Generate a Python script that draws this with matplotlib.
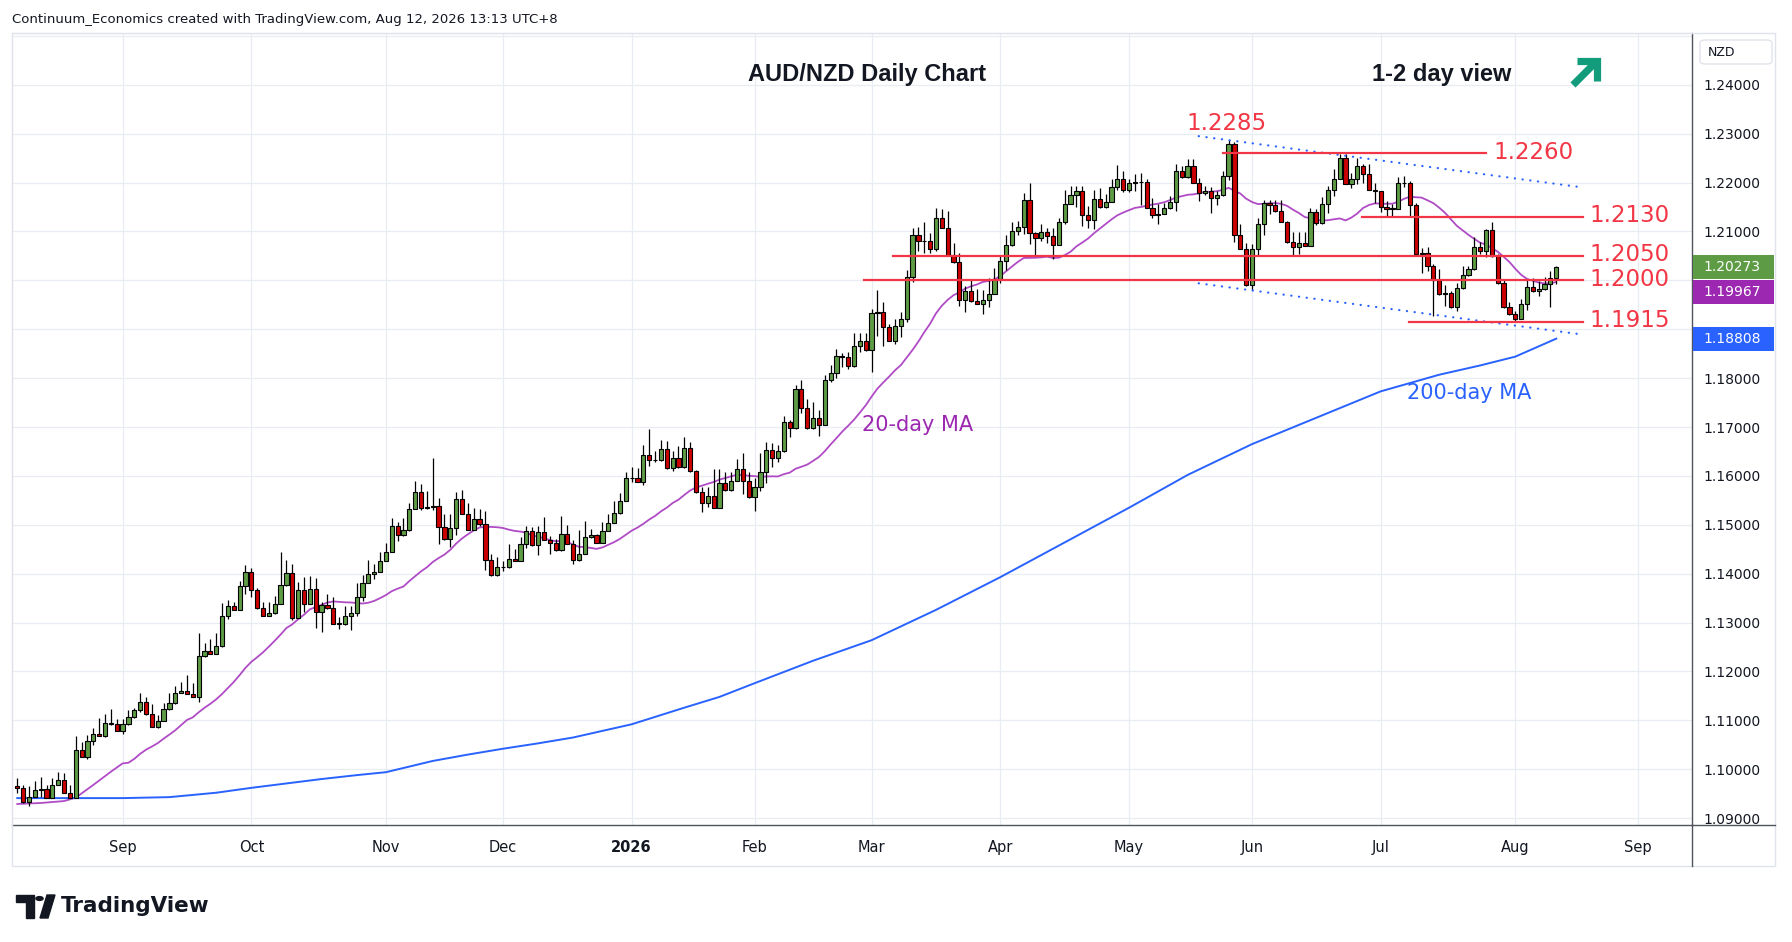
import numpy as np
import pandas as pd
import matplotlib
matplotlib.use("Agg")
import matplotlib.pyplot as plt
from matplotlib.patches import Rectangle, FancyBboxPatch, Polygon, Circle
from matplotlib.lines import Line2D

W, H = 1792, 942

# Daily AUD/NZD candles, Aug 6 2025 - Aug 12 2026 (open = previous close)
first_open = 1.0965
closes = [
    1.0961, 1.0933, 1.0944, 1.0958, 1.0959, 1.0942, 1.0967, 1.0979, 1.0952, 1.0942,
    1.1040, 1.1026, 1.1057, 1.1072, 1.1069, 1.1095, 1.1092, 1.1079, 1.1092, 1.1107,
    1.1121, 1.1138, 1.1113, 1.1087, 1.1099, 1.1123, 1.1135, 1.1157, 1.1161, 1.1154,
    1.1148, 1.1232, 1.1241, 1.1236, 1.1252, 1.1314, 1.1334, 1.1326, 1.1375, 1.1403,
    1.1366, 1.1329, 1.1314, 1.1319, 1.1339, 1.1376, 1.1402, 1.1310, 1.1367, 1.1339,
    1.1369, 1.1322, 1.1335, 1.1329, 1.1298, 1.1298, 1.1314, 1.1319, 1.1353, 1.1382,
    1.1399, 1.1404, 1.1427, 1.1445, 1.1498, 1.1479, 1.1490, 1.1533, 1.1567, 1.1535,
    1.1536, 1.1538, 1.1496, 1.1470, 1.1494, 1.1553, 1.1523, 1.1490, 1.1512, 1.1502,
    1.1429, 1.1397, 1.1414, 1.1414, 1.1431, 1.1427, 1.1461, 1.1487, 1.1458, 1.1486,
    1.1469, 1.1463, 1.1448, 1.1482, 1.1461, 1.1429, 1.1441, 1.1476, 1.1480, 1.1463,
    1.1488, 1.1504, 1.1524, 1.1549, 1.1596, 1.1596, 1.1588, 1.1643, 1.1632, 1.1632,
    1.1655, 1.1616, 1.1637, 1.1618, 1.1657, 1.1610, 1.1567, 1.1545, 1.1559, 1.1535,
    1.1586, 1.1572, 1.1590, 1.1614, 1.1590, 1.1557, 1.1578, 1.1608, 1.1653, 1.1637,
    1.1650, 1.1710, 1.1698, 1.1778, 1.1739, 1.1698, 1.1718, 1.1705, 1.1797, 1.1811,
    1.1845, 1.1843, 1.1824, 1.1865, 1.1877, 1.1857, 1.1933, 1.1936, 1.1904, 1.1877,
    1.1906, 1.1922, 1.2006, 1.2093, 1.2081, 1.2081, 1.2065, 1.2127, 1.2108, 1.2052,
    1.2037, 1.1960, 1.1978, 1.1958, 1.1952, 1.1960, 1.1973, 1.2003, 1.2040, 1.2073,
    1.2101, 1.2110, 1.2165, 1.2097, 1.2086, 1.2098, 1.2091, 1.2073, 1.2120, 1.2157,
    1.2175, 1.2182, 1.2133, 1.2124, 1.2167, 1.2151, 1.2161, 1.2192, 1.2207, 1.2185,
    1.2200, 1.2202, 1.2201, 1.2149, 1.2134, 1.2135, 1.2148, 1.2161, 1.2224, 1.2212,
    1.2233, 1.2200, 1.2178, 1.2183, 1.2169, 1.2174, 1.2214, 1.2278, 1.2093, 1.2065,
    1.1991, 1.2065, 1.2116, 1.2159, 1.2155, 1.2142, 1.2120, 1.2078, 1.2069, 1.2076,
    1.2071, 1.2139, 1.2117, 1.2157, 1.2184, 1.2208, 1.2251, 1.2198, 1.2208, 1.2233,
    1.2217, 1.2185, 1.2182, 1.2151, 1.2147, 1.2147, 1.2199, 1.2199, 1.2154, 1.2054,
    1.2055, 1.2029, 1.2001, 1.1972, 1.1974, 1.1945, 1.1984, 1.2011, 1.2023, 1.2069,
    1.2061, 1.2103, 1.2049, 1.1995, 1.1945, 1.1931, 1.1922, 1.1952, 1.1986, 1.1978,
    1.1982, 1.1993, 1.2004, 1.20273,
]
highs = [
    1.0982, 1.0968, 1.0965, 1.0977, 1.0984, 1.0967, 1.0982, 1.0995, 1.0992, 1.0968,
    1.1069, 1.1055, 1.1070, 1.1084, 1.1105, 1.1114, 1.1124, 1.1102, 1.1102, 1.1122,
    1.1126, 1.1157, 1.1148, 1.1133, 1.1110, 1.1135, 1.1156, 1.1170, 1.1179, 1.1193,
    1.1177, 1.1279, 1.1259, 1.1267, 1.1279, 1.1340, 1.1347, 1.1342, 1.1386, 1.1418,
    1.1412, 1.1370, 1.1343, 1.1343, 1.1355, 1.1445, 1.1429, 1.1419, 1.1384, 1.1394,
    1.1395, 1.1392, 1.1343, 1.1359, 1.1352, 1.1311, 1.1333, 1.1333, 1.1382, 1.1397,
    1.1429, 1.1419, 1.1444, 1.1462, 1.1513, 1.1506, 1.1513, 1.1544, 1.1589, 1.1583,
    1.1569, 1.1637, 1.1555, 1.1523, 1.1523, 1.1567, 1.1572, 1.1544, 1.1535, 1.1532,
    1.1528, 1.1440, 1.1434, 1.1426, 1.1460, 1.1450, 1.1476, 1.1498, 1.1496, 1.1497,
    1.1516, 1.1478, 1.1471, 1.1518, 1.1499, 1.1469, 1.1489, 1.1508, 1.1491, 1.1482,
    1.1506, 1.1523, 1.1548, 1.1566, 1.1608, 1.1618, 1.1616, 1.1664, 1.1695, 1.1652,
    1.1674, 1.1671, 1.1651, 1.1661, 1.1680, 1.1670, 1.1613, 1.1578, 1.1578, 1.1615,
    1.1615, 1.1609, 1.1609, 1.1635, 1.1646, 1.1609, 1.1595, 1.1647, 1.1669, 1.1668,
    1.1664, 1.1722, 1.1715, 1.1786, 1.1797, 1.1758, 1.1751, 1.1734, 1.1807, 1.1827,
    1.1859, 1.1852, 1.1853, 1.1893, 1.1893, 1.1893, 1.1941, 1.1981, 1.1955, 1.1911,
    1.1921, 1.1935, 1.2021, 1.2107, 1.2110, 1.2120, 1.2097, 1.2149, 1.2146, 1.2142,
    1.2077, 1.2057, 1.1988, 1.2000, 1.1982, 1.1981, 1.2004, 1.2026, 1.2052, 1.2093,
    1.2120, 1.2121, 1.2178, 1.2199, 1.2098, 1.2115, 1.2107, 1.2107, 1.2128, 1.2185,
    1.2193, 1.2193, 1.2193, 1.2152, 1.2185, 1.2188, 1.2176, 1.2207, 1.2235, 1.2224,
    1.2208, 1.2217, 1.2219, 1.2207, 1.2168, 1.2157, 1.2159, 1.2173, 1.2239, 1.2234,
    1.2248, 1.2248, 1.2210, 1.2193, 1.2190, 1.2183, 1.2224, 1.2287, 1.2283, 1.2115,
    1.2077, 1.2074, 1.2127, 1.2165, 1.2165, 1.2164, 1.2164, 1.2121, 1.2099, 1.2099,
    1.2099, 1.2149, 1.2147, 1.2171, 1.2193, 1.2227, 1.2258, 1.2258, 1.2220, 1.2251,
    1.2238, 1.2238, 1.2200, 1.2183, 1.2162, 1.2156, 1.2211, 1.2213, 1.2204, 1.2159,
    1.2067, 1.2068, 1.2034, 1.2024, 1.1991, 1.1979, 1.1994, 1.2030, 1.2030, 1.2088,
    1.2078, 1.2106, 1.2120, 1.2054, 1.2003, 1.1956, 1.1937, 1.1962, 1.2003, 1.2005,
    1.1999, 1.2007, 1.2019, 1.2030,
]
lows = [
    1.0951, 1.0932, 1.0924, 1.0948, 1.0944, 1.0941, 1.0941, 1.0967, 1.0951, 1.0941,
    1.0941, 1.1025, 1.1021, 1.1050, 1.1068, 1.1065, 1.1091, 1.1078, 1.1072, 1.1091,
    1.1104, 1.1118, 1.1112, 1.1086, 1.1085, 1.1098, 1.1122, 1.1133, 1.1155, 1.1153,
    1.1147, 1.1138, 1.1230, 1.1235, 1.1235, 1.1250, 1.1307, 1.1325, 1.1325, 1.1358,
    1.1352, 1.1328, 1.1313, 1.1313, 1.1318, 1.1338, 1.1375, 1.1305, 1.1309, 1.1322,
    1.1338, 1.1288, 1.1280, 1.1328, 1.1297, 1.1287, 1.1296, 1.1284, 1.1313, 1.1345,
    1.1380, 1.1389, 1.1403, 1.1426, 1.1444, 1.1467, 1.1478, 1.1488, 1.1532, 1.1530,
    1.1533, 1.1531, 1.1461, 1.1469, 1.1455, 1.1479, 1.1522, 1.1489, 1.1489, 1.1498,
    1.1407, 1.1396, 1.1396, 1.1405, 1.1412, 1.1426, 1.1426, 1.1453, 1.1457, 1.1438,
    1.1468, 1.1441, 1.1447, 1.1447, 1.1460, 1.1420, 1.1427, 1.1440, 1.1474, 1.1462,
    1.1462, 1.1487, 1.1503, 1.1523, 1.1548, 1.1588, 1.1587, 1.1582, 1.1620, 1.1628,
    1.1631, 1.1615, 1.1611, 1.1616, 1.1616, 1.1609, 1.1566, 1.1527, 1.1536, 1.1534,
    1.1534, 1.1569, 1.1569, 1.1589, 1.1564, 1.1554, 1.1528, 1.1569, 1.1586, 1.1618,
    1.1629, 1.1649, 1.1680, 1.1696, 1.1729, 1.1697, 1.1695, 1.1682, 1.1704, 1.1793,
    1.1800, 1.1822, 1.1819, 1.1823, 1.1854, 1.1856, 1.1812, 1.1887, 1.1865, 1.1876,
    1.1870, 1.1884, 1.1915, 1.1996, 1.2060, 1.2057, 1.2055, 1.2060, 1.2107, 1.2051,
    1.2036, 1.1947, 1.1935, 1.1955, 1.1951, 1.1931, 1.1946, 1.1972, 1.1995, 1.2022,
    1.2070, 1.2092, 1.2095, 1.2074, 1.2049, 1.2080, 1.2077, 1.2044, 1.2073, 1.2115,
    1.2156, 1.2150, 1.2112, 1.2107, 1.2105, 1.2149, 1.2149, 1.2160, 1.2185, 1.2181,
    1.2181, 1.2183, 1.2154, 1.2148, 1.2127, 1.2116, 1.2136, 1.2145, 1.2142, 1.2210,
    1.2210, 1.2199, 1.2163, 1.2174, 1.2137, 1.2154, 1.2172, 1.2205, 1.2079, 1.2064,
    1.1988, 1.1981, 1.2050, 1.2093, 1.2135, 1.2140, 1.2119, 1.2077, 1.2052, 1.2054,
    1.2070, 1.2070, 1.2113, 1.2115, 1.2138, 1.2172, 1.2220, 1.2197, 1.2189, 1.2197,
    1.2200, 1.2184, 1.2159, 1.2139, 1.2132, 1.2132, 1.2146, 1.2190, 1.2132, 1.2053,
    1.2016, 1.2020, 1.1928, 1.1971, 1.1948, 1.1944, 1.1938, 1.1983, 1.2009, 1.2021,
    1.2054, 1.2047, 1.2047, 1.1993, 1.1944, 1.1929, 1.1914, 1.1920, 1.1940, 1.1977,
    1.1968, 1.1981, 1.1945, 1.1993,
]

# trading calendar (no candle on these days)
holidays = ["2025-12-25", "2026-01-01"]

# 20-day MA before a full window is visible
ma20_lead_idx = [0, 4, 8, 10, 13, 16, 18]
ma20_lead_val = [1.0929, 1.0931, 1.0935, 1.0942, 1.0968, 1.0995, 1.1012]

# 200-day MA
ma200_idx = [0, 18, 26, 34, 40, 46, 52, 58, 63, 71, 77, 83, 89, 95, 105, 114,
             120, 126, 136, 146, 157, 168, 179, 190, 200, 211, 222, 233, 243,
             250, 256, 263]
ma200_val = [1.0941, 1.0941, 1.0943, 1.0952, 1.0962, 1.0971, 1.0980, 1.0988,
             1.0994, 1.1017, 1.1030, 1.1042, 1.1053, 1.1065, 1.1092, 1.1126,
             1.1148, 1.1176, 1.1222, 1.1264, 1.1326, 1.1393, 1.1464, 1.1535,
             1.1602, 1.1665, 1.1719, 1.1773, 1.1807, 1.1826, 1.1844, 1.18808]

# horizontal levels
levels = [1.2260, 1.2130, 1.2050, 1.2000, 1.1915]
peak_level = 1.2285

# colours
GREEN = "#5d9b45"
RED = "#cc0000"
LEVEL_RED = "#f23645"
PURPLE = "#9c27b0"
BLUE = "#2962ff"
TEXT = "#131722"
GRID = "#e8edf3"
BORDER = "#e0e3eb"
AXIS = "#50535e"

closes = np.array(closes)
highs = np.array(highs)
lows = np.array(lows)
n = len(closes)
x = np.arange(n)
opens = np.r_[first_open, closes[:-1]]
highs = np.maximum(highs, np.maximum(opens, closes))
lows = np.minimum(lows, np.minimum(opens, closes))

# dates -> month ticks
days = pd.bdate_range("2025-08-06", "2026-09-30")
days = days[~days.isin(pd.to_datetime(holidays))]
month_idx, month_lab = [], []
for i in range(1, len(days)):
    if days[i].month != days[i - 1].month:
        month_idx.append(i)
        month_lab.append("2026" if days[i].month == 1 else days[i].strftime("%b"))

fig = plt.figure(figsize=(W / 100, H / 100), dpi=100)
fig.patch.set_facecolor("white")
ax = fig.add_axes([12 / W, 117 / H, 1680 / W, 792 / H])

ax.set_xlim(-0.9, 286.2)
ax.set_ylim(1.0886, 1.2506)

# grid and axes
ax.set_xticks(month_idx)
ax.set_xticklabels(month_lab)
yt = np.round(np.arange(1.09, 1.2401, 0.01), 2)
ax.set_yticks(yt)
# labels at 1.19 / 1.20 sit under the price tags
ax.set_yticklabels(["" if v in (1.19, 1.20) else f"{v:.5f}" for v in yt])
ax.grid(True, color=GRID, lw=0.9, zorder=0)
ax.axhline(1.25, color=GRID, lw=0.9, zorder=0)
ax.set_axisbelow(True)

ax.yaxis.tick_right()
ax.tick_params(axis="both", length=0, colors=TEXT)
ax.tick_params(axis="x", pad=11, labelsize=10.5)
ax.tick_params(axis="y", pad=8, labelsize=10)
for lab in ax.get_xticklabels():
    if lab.get_text() == "2026":
        lab.set_fontweight("bold")

for side in ["left", "top"]:
    ax.spines[side].set_color(BORDER)
for side in ["right", "bottom"]:
    ax.spines[side].set_color(AXIS)
    ax.spines[side].set_linewidth(1.0)

# moving averages
ma20 = pd.Series(closes).rolling(20).mean().to_numpy()
ma20_x = np.r_[ma20_lead_idx, x[19:]]
ma20_y = np.r_[ma20_lead_val, ma20[19:]]
ax.plot(ma20_x, ma20_y, color="#b04bc6", lw=1.3, zorder=2.5)
ax.plot(ma200_idx, ma200_val, color=BLUE, lw=1.4, zorder=2.5)

# candles
up = closes >= opens
body_lo = np.minimum(opens, closes)
body_h = np.abs(closes - opens)
min_h = 0.00007
small = body_h < min_h
body_lo = np.where(small, (opens + closes) / 2 - min_h / 2, body_lo)
body_h = np.where(small, min_h, body_h)
ax.vlines(x, lows, highs, color="black", lw=0.9, zorder=3)
ax.bar(x, body_h, width=0.72, bottom=body_lo,
       color=np.where(up, GREEN, RED), edgecolor="black", linewidth=0.8, zorder=4)

# channel (blue dotted)
ch_x = [201.9, 267.6]
ax.plot(ch_x, [1.2295, 1.2190], color=BLUE, lw=1.6,
        linestyle=(0, (0.1, 3.4)), dash_capstyle="round", zorder=5)
ax.plot(ch_x, [1.1994, 1.1889], color=BLUE, lw=1.6,
        linestyle=(0, (0.1, 3.4)), dash_capstyle="round", zorder=5)

# red levels
lv_start = [206.0, 229.8, 149.7, 144.7, 237.9]
lv_end = [251.0, 267.6, 267.6, 267.6, 267.6]
lv_text_x = [252.3, 268.6, 268.6, 268.6, 268.6]
for lv, xs, xe, xt in zip(levels, lv_start, lv_end, lv_text_x):
    ax.plot([xs, xe], [lv, lv], color=LEVEL_RED, lw=1.6, zorder=5)
    ax.text(xt, lv + 0.0002, f"{lv:.4f}", color=LEVEL_RED, fontsize=16.5,
            ha="left", va="center", zorder=6)
ax.text(206.6, 1.2321, f"{peak_level:.4f}", color=LEVEL_RED, fontsize=16.5,
        ha="center", va="center", zorder=6)

ax.text(153.9, 1.1704, "20-day MA", color=PURPLE, fontsize=15,
        ha="center", va="center", zorder=6)
ax.text(248.1, 1.1769, "200-day MA", color=BLUE, fontsize=15,
        ha="center", va="center", zorder=6)


def fx(px):
    return px / W


def fy(py):
    return 1 - py / H


# titles
fig.text(fx(867), fy(75), "AUD/NZD Daily Chart", fontsize=17, fontweight="bold",
         family="Liberation Sans", color=TEXT, ha="center", va="center")
fig.text(fx(1442), fy(75), "1-2 day view", fontsize=17, fontweight="bold",
         family="Liberation Sans", color=TEXT, ha="center", va="center")

# green up arrow
ARROW = "#129c7b"
fig.add_artist(Line2D([fx(1573), fx(1595)], [fy(85), fy(63)],
                      transform=fig.transFigure, color=ARROW, lw=5.2,
                      solid_capstyle="butt"))
fig.add_artist(Line2D([fx(1577), fx(1597), fx(1597)], [fy(61), fy(61), fy(81)],
                      transform=fig.transFigure, color=ARROW, lw=5.2,
                      solid_capstyle="butt", solid_joinstyle="miter"))

fig.text(fx(12), fy(19), "Continuum_Economics created with TradingView.com, "
         "Aug 12, 2026 13:13 UTC+8", fontsize=9.5, color=TEXT,
         ha="left", va="center")

# panel borders
fig.add_artist(Rectangle((fx(12), fy(866)), (1775 - 12) / W, (866 - 33) / H,
                         transform=fig.transFigure, fill=False,
                         edgecolor=BORDER, lw=1))
fig.add_artist(Line2D([fx(1692), fx(1775)], [fy(825), fy(825)],
                      transform=fig.transFigure, color=AXIS, lw=1))
fig.add_artist(Line2D([fx(1692), fx(1692)], [fy(825), fy(866)],
                      transform=fig.transFigure, color=AXIS, lw=1))

# currency box
fig.add_artist(FancyBboxPatch((fx(1700), fy(64)), 72 / W, 24 / H,
                              boxstyle="round,pad=0,rounding_size=0.003",
                              transform=fig.transFigure, facecolor="white",
                              edgecolor=BORDER, lw=1))
fig.text(fx(1708), fy(52), "NZD", fontsize=9, color=TEXT, ha="left", va="center")

# price tags
fig.canvas.draw()


def tag_y(v):
    return H - ax.transData.transform((0, v))[1]


tag_vals = [closes[-1], ma20[-1], ma200_val[-1]]
tag_cols = [GREEN, PURPLE, BLUE]
prev = None
for v, c in zip(tag_vals, tag_cols):
    yy = tag_y(v)
    if prev is not None and yy - prev < 25:
        yy = prev + 25
    prev = yy
    fig.add_artist(Rectangle((fx(1693), fy(yy + 12)), 81 / W, 24 / H,
                             transform=fig.transFigure, facecolor=c,
                             edgecolor="none", zorder=10))
    fig.text(fx(1703), fy(yy), f"{v:.5f}", fontsize=10, color="white",
             ha="left", va="center", zorder=11)

# TradingView logo
logo = "#131722"
fig.add_artist(Polygon([(fx(16), fy(895)), (fx(34), fy(895)), (fx(34), fy(918)),
                        (fx(26), fy(918)), (fx(26), fy(902)), (fx(16), fy(902))],
                       closed=True, transform=fig.transFigure, color=logo))
fig.add_artist(Circle((fx(39.5), fy(898.5)), 3.6 / W, transform=fig.transFigure,
                      color=logo))
fig.add_artist(Polygon([(fx(40), fy(918)), (fx(48), fy(918)), (fx(55), fy(895)),
                        (fx(47), fy(895))],
                       closed=True, transform=fig.transFigure, color=logo))
fig.text(fx(61), fy(906), "TradingView", fontsize=15.5, fontweight="bold",
         color=logo, ha="left", va="center")

fig.savefig("out.png", dpi=100)
